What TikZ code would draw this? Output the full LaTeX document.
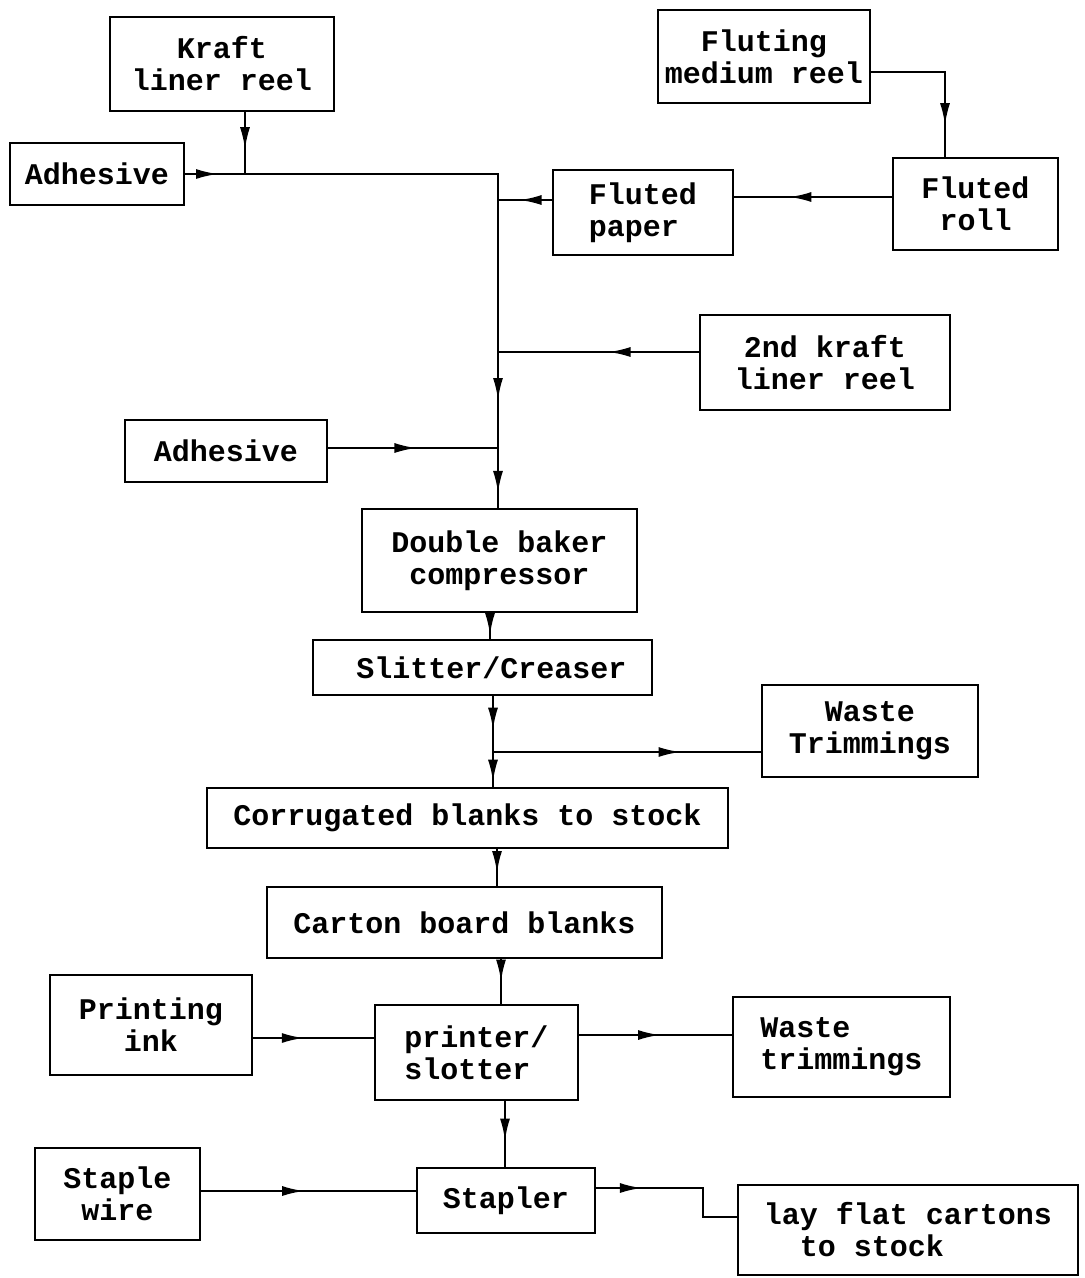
\documentclass[tikz,border=0pt]{standalone}
\usepackage{fontspec}
\newfontfamily\boxfont{Liberation Mono}
\usetikzlibrary{arrows.meta,decorations.markings}
\begin{document}
\begin{tikzpicture}[x=1pt,y=-1pt,
  box/.style={draw, line width=2.2pt, inner sep=0pt, font=\boxfont\bfseries\fontsize{30}{32}\selectfont, align=center},
  sz/.style 2 args={minimum width=#1pt, minimum height=#2pt},
  conn/.style={line width=2.2pt},
  arrowat/.style={conn, postaction={decorate}, decoration={markings, mark=at position #1 with {\arrow{Latex[length=22pt,width=10pt]}}}},
]
\useasboundingbox (0,0) rectangle (1085,1278);

% nodes
\node[box,sz={224}{94}] (kraft) at (222,64) {Kraft\\liner reel};
\node[box,sz={174}{62}] (adh1) at (97,174) {Adhesive};
\node[box,sz={212}{93}] (fmr) at (764,56.5) {Fluting\\medium reel};
\node[box,sz={165}{92}] (froll) at (975.5,204) {Fluted\\roll};
\node[box,sz={180}{85},align=left] (fpaper) at (643,212.5) {Fluted\\paper};
\node[box,sz={250}{95}] (k2) at (825,362.5) {2nd kraft\\liner reel};
\node[box,sz={202}{62}] (adh2) at (226,451) {Adhesive};
\node[box,sz={275}{103}] (dbc) at (499.5,560.5) {Double baker\\compressor};
\node[box,sz={339}{55}] (slit) at (482.5,667.5) {\hspace*{18pt}Slitter/Creaser};
\node[box,sz={216}{92}] (waste1) at (870,731) {Waste\\Trimmings};
\node[box,sz={521}{60}] (corr) at (467.5,818) {Corrugated blanks to stock};
\node[box,sz={395}{71}] (carton) at (464.5,922.5) {Carton board blanks};
\node[box,sz={202}{100}] (ink) at (151,1025) {Printing\\ink};
\node[box,sz={203}{95},align=left] (ps) at (476.5,1052.5) {printer/\\slotter};
\node[box,sz={217}{100},align=left] (waste2) at (841.5,1047) {Waste\\trimmings};
\node[box,sz={165}{92}] (staple) at (117.5,1194) {Staple\\wire};
\node[box,sz={178}{65}] (stapler) at (506,1200.5) {Stapler};
\node[box,sz={340}{90},align=left] (lay) at (908,1230) {lay flat cartons\\\hspace*{36pt}to stock};

% junctions and routing points
\coordinate (J1) at (245,174);
\coordinate (C1) at (498,174);
\coordinate (J2) at (498,200);
\coordinate (J3) at (498,352);
\coordinate (J4) at (498,448);
\coordinate (F1) at (945,72);
\coordinate (Y0) at (0,197);
\coordinate (X1) at (490,0);
\coordinate (J5) at (493,752);
\coordinate (X2) at (497,0);
\coordinate (X3) at (501,0);
\coordinate (Y1) at (0,1038);
\coordinate (Y2) at (0,1035);
\coordinate (X4) at (505,0);
\coordinate (Y3) at (0,1191);
\coordinate (L1) at (703,1188);
\coordinate (Y4) at (0,1217);

% connectors
\draw[arrowat=0.6] (kraft.south -| J1) -- (J1);
\draw[arrowat=0.55] (adh1.east) -- (J1);
\draw[conn] (J1) -- (C1) -- (J2) -- (J3);
\draw[arrowat=0.5] (J3) -- (J4);
\draw[arrowat=0.75] (J4) -- (J4 |- dbc.north);
\draw[arrowat=0.6] (fpaper.west |- J2) -- (J2);
\draw[arrowat=0.65] (froll.west |- Y0) -- (fpaper.east |- Y0);
\draw[arrowat=0.8] (fmr.east |- F1) -- (F1) -- (F1 |- froll.north);
\draw[arrowat=0.45] (k2.west |- J3) -- (J3);
\draw[arrowat=0.52] (adh2.east |- J4) -- (J4);
\draw[arrowat=0.85] (X1 |- dbc.south) -- (X1 |- slit.north);
\draw[arrowat=0.6] (J5 |- slit.south) -- (J5);
\draw[arrowat=0.85] (J5) -- (J5 |- corr.north);
\draw[arrowat=0.7] (J5) -- (waste1.west |- J5);
\draw[arrowat=0.65] (X2 |- corr.south) -- (X2 |- carton.north);
\draw[arrowat=0.5] (X3 |- carton.south) -- (X3 |- ps.north);
\draw[arrowat=0.42] (ink.east |- Y1) -- (ps.west |- Y1);
\draw[arrowat=0.53] (ps.east |- Y2) -- (waste2.west |- Y2);
\draw[arrowat=0.6] (X4 |- ps.south) -- (X4 |- stapler.north);
\draw[arrowat=0.48] (staple.east |- Y3) -- (stapler.west |- Y3);
\draw[arrowat=0.27] (stapler.east |- L1) -- (L1) -- (L1 |- Y4) -- (lay.west |- Y4);
\end{tikzpicture}
\end{document}
